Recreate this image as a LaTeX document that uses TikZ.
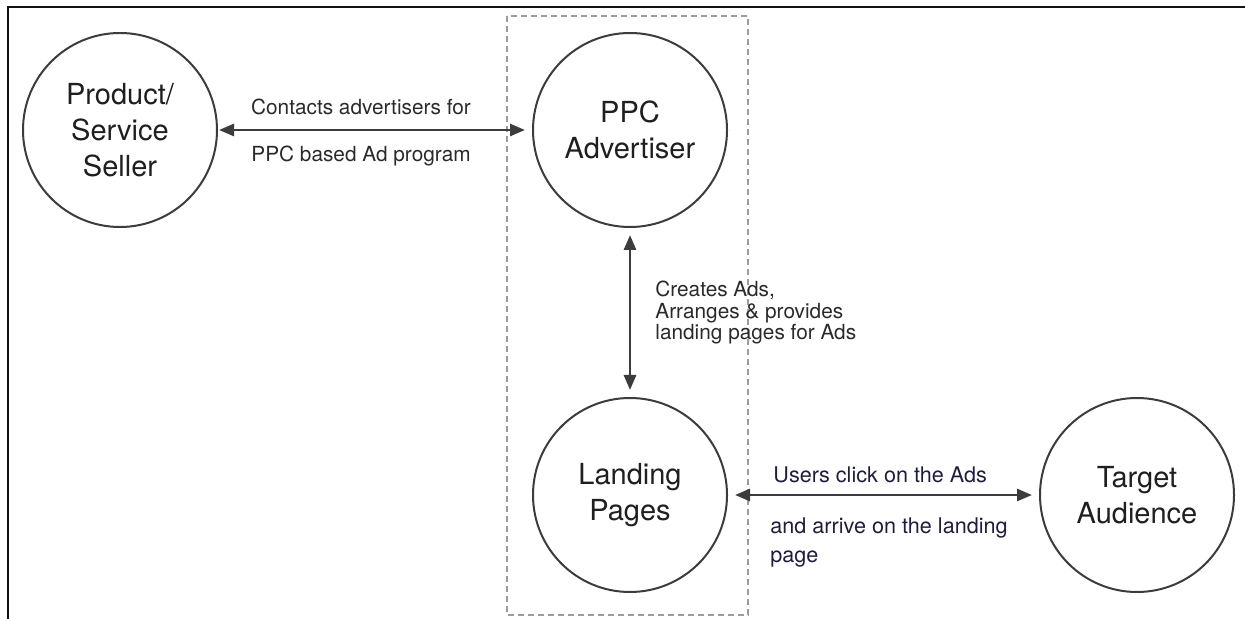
\documentclass[tikz,border=0pt]{standalone}
\usepackage{fontspec}
\setmainfont{TeX Gyre Heros}
\usetikzlibrary{positioning,arrows.meta}

\definecolor{framegray}{HTML}{111111}
\definecolor{circlegray}{HTML}{3C3C3C}
\definecolor{dashgray}{HTML}{9C9C9C}
\definecolor{labelgray}{HTML}{2A2A2A}
\definecolor{labelnavy}{HTML}{1E1E3C}

\begin{document}
\begin{tikzpicture}[x=0.5pt,y=-0.5pt,>={Triangle[length=7.5pt,width=6pt]}]
      \tikzstyle{party}=[circle, draw=circlegray, line width=1pt, minimum size=97pt, inner sep=0pt, align=center, text=black!88, font=\fontsize{14.5}{18}\selectfont]
      \tikzstyle{flow}=[<->, draw=circlegray, line width=1.4pt, shorten <=3.5pt, shorten >=3.5pt]
      \tikzstyle{annot}=[inner sep=0pt, text=labelgray, font=\fontsize{10.4}{10.5}\selectfont]
      \tikzstyle{user annot}=[annot, text=labelnavy, font=\fontsize{10.8}{14.5}\selectfont]

      \useasboundingbox (0,0) rectangle (1245,619);

      % Draw the frame and the advertiser group
      \draw[framegray, line width=1pt] (8,619) -- (8,7) -- (1245,7);
      \draw[dashgray, line width=0.75pt, dash pattern=on 3pt off 2pt] (507,16) rectangle (748,615);

      % Draw the parties
      \node[party] (seller) at (120,130) {Product/\\Service\\Seller};
      \node[party] (ppc) at (630,130) {PPC\\Advertiser};
      \node[party] (landing) at (630,495) {Landing\\Pages};
      \node[party] (audience) at (1137,495) {Target\\Audience};

      % Connect the parties
      \draw[flow, shorten <=0.5pt] (seller) -- (ppc);
      \draw[flow] (ppc) -- node[annot, align=left, right=12pt] (creates) {Creates Ads,\\Arranges \& provides\\landing pages for Ads} (landing);
      \draw[flow] (landing) -- (audience);

      % Annotate the connectors
      \node[annot, anchor=base] (contacts) at (361,115) {Contacts advertisers for};
      \node[annot, anchor=base] (program) at (361,162) {PPC based Ad program};
      \node[user annot, anchor=base west] (click) at (773,482) {Users click on the Ads};
      \node[user annot, align=left, anchor=north west] (arrive) at (770,517) {and arrive on the landing\\page};
\end{tikzpicture}
\end{document}
